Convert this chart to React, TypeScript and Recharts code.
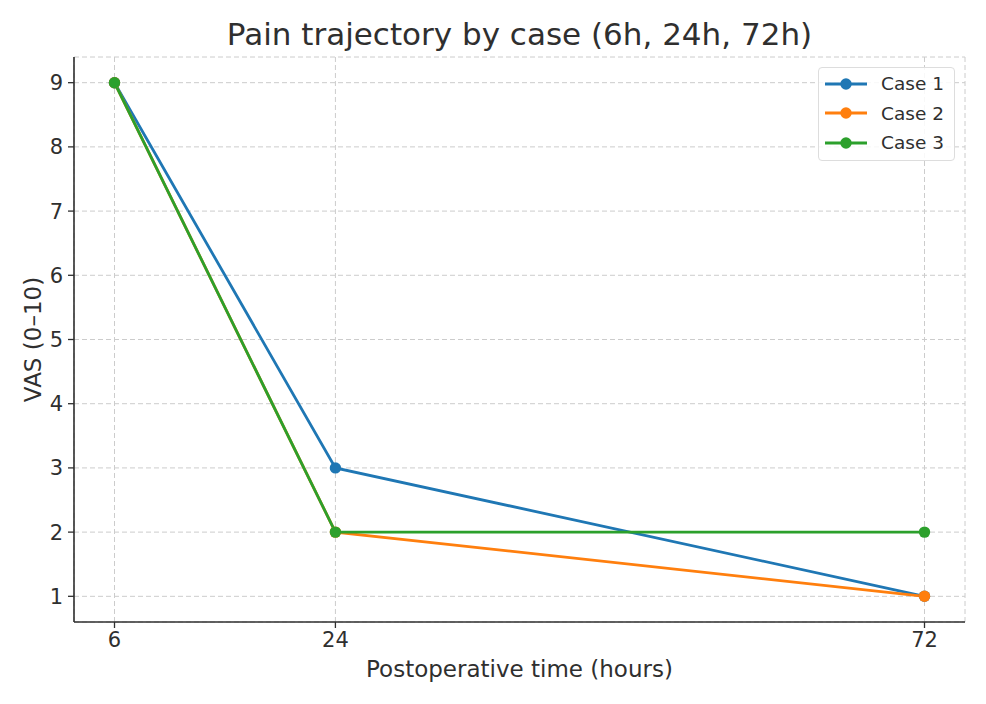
import { CartesianGrid, Legend, Line, LineChart, XAxis, YAxis } from "recharts";

const hours = [6, 24, 72];
const case1 = [9, 3, 1];
const case2 = [9, 2, 1];
const case3 = [9, 2, 2];
const yTicks = [1, 2, 3, 4, 5, 6, 7, 8, 9];

const series = [
  { key: "case1", name: "Case 1", color: "#1f77b4" },
  { key: "case2", name: "Case 2", color: "#ff7f0e" },
  { key: "case3", name: "Case 3", color: "#2ca02c" },
];

const data = hours.map((h, i) => ({
  hour: h,
  case1: case1[i],
  case2: case2[i],
  case3: case3[i],
}));

const font = "'DejaVu Sans', sans-serif";
const ink = "#2f2f2f";

const LegendBox = () => (
  <div
    style={{
      position: "absolute",
      left: 818,
      top: 67,
      width: 135,
      height: 91,
      border: "1px solid #ddd",
      borderRadius: 4,
      background: "rgba(255,255,255,0.85)",
      paddingTop: 1,
      fontFamily: font,
      fontSize: 18.5,
      color: ink,
    }}
  >
    {series.map((s) => (
      <div key={s.key} style={{ display: "flex", alignItems: "center", height: 29.5 }}>
        <svg width={60} height={14} style={{ marginLeft: 5 }}>
          <line x1={1} y1={7} x2={43} y2={7} stroke={s.color} strokeWidth={2.8} />
          <circle cx={22} cy={7} r={5.7} fill={s.color} />
        </svg>
        <span style={{ marginLeft: -3 }}>{s.name}</span>
      </div>
    ))}
  </div>
);

const App = () => {
  return (
    <div style={{ position: "absolute", left: 0, top: 0, width: 986, height: 704, background: "#fff" }}>
      <div
        style={{
          position: "absolute",
          left: 74,
          width: 891,
          top: 16,
          textAlign: "center",
          fontFamily: font,
          fontSize: 31,
          color: ink,
        }}
      >
        Pain trajectory by case (6h, 24h, 72h)
      </div>
      <LineChart
        width={986}
        height={704}
        data={data}
        margin={{ top: 57, right: 21, left: 0, bottom: 0 }}
        style={{ fontFamily: font }}
      >
        <CartesianGrid stroke="#ccc" strokeDasharray="5 3" />
        <XAxis
          dataKey="hour"
          type="number"
          domain={[2.7, 75.3]}
          ticks={hours}
          allowDataOverflow
          height={82}
          tickSize={6}
          tickMargin={4}
          axisLine={{ stroke: ink, strokeWidth: 1.6 }}
          tickLine={{ stroke: ink, strokeWidth: 1.3 }}
          tick={{ fill: ink, fontSize: 21 }}
          label={{
            value: "Postoperative time (hours)",
            position: "insideBottom",
            offset: 27,
            fill: ink,
            fontSize: 23,
          }}
        />
        <YAxis
          type="number"
          domain={[0.6, 9.4]}
          ticks={yTicks}
          allowDataOverflow
          width={74}
          tickSize={6}
          tickMargin={5}
          axisLine={{ stroke: ink, strokeWidth: 1.6 }}
          tickLine={{ stroke: ink, strokeWidth: 1.3 }}
          tick={{ fill: ink, fontSize: 21 }}
          label={{
            value: "VAS (0–10)",
            angle: -90,
            position: "insideLeft",
            offset: 33,
            fill: ink,
            fontSize: 23,
            style: { textAnchor: "middle" },
          }}
        />
        <Legend content={() => null} />
        {series.map((s) => (
          <Line
            key={s.key}
            dataKey={s.key}
            name={s.name}
            type="linear"
            stroke={s.color}
            strokeWidth={2.8}
            dot={{ r: 5.7, fill: s.color, stroke: s.color, strokeWidth: 0 }}
            activeDot={false}
            isAnimationActive={false}
          />
        ))}
      </LineChart>
      <LegendBox />
    </div>
  );
};

export default App;
